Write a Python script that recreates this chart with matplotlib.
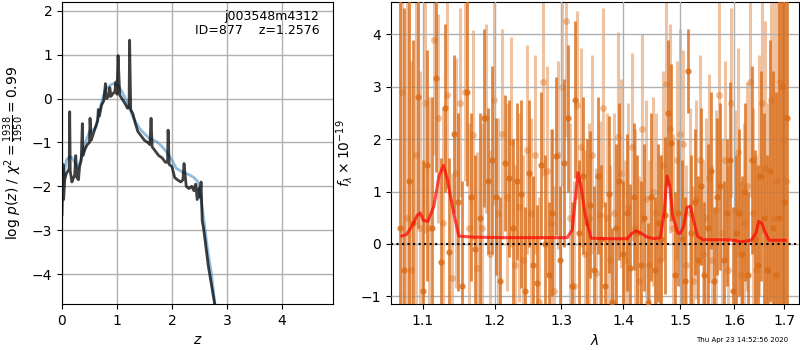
import numpy as np
import matplotlib
matplotlib.use("Agg")
import matplotlib.pyplot as plt
from matplotlib.ticker import FixedLocator, FixedFormatter, NullLocator

# ---------------- left panel: p(z) ----------------
z_pz = [0.0, 0.02, 0.03, 0.05, 0.08, 0.11, 0.13, 0.14, 0.15, 0.18, 0.21, 0.23, 0.25, 0.27, 0.30,
        0.32, 0.35, 0.37, 0.38, 0.42, 0.46, 0.50, 0.51, 0.53, 0.57, 0.61, 0.65, 0.66, 0.68, 0.72,
        0.76, 0.79, 0.81, 0.85, 0.87, 0.89, 0.93, 0.96, 0.98, 1.00, 1.02, 1.05, 1.10, 1.15, 1.19,
        1.22, 1.23, 1.25, 1.29, 1.33, 1.38, 1.44, 1.50, 1.56, 1.60, 1.62, 1.64, 1.70, 1.76, 1.82,
        1.88, 1.92, 1.93, 1.95, 2.00, 2.05, 2.10, 2.16, 2.20, 2.22, 2.26, 2.31, 2.36, 2.40, 2.43,
        2.46, 2.49, 2.51, 2.53, 2.55, 2.58, 2.62, 2.66, 2.70, 2.74, 2.78]
logp = [-2.65, -1.5, -2.3, -1.85, -1.7, -1.65, -1.6, -0.3, -1.65, -1.9, -1.8, -1.75, -1.3, -1.8, -1.85,
        -1.55, -1.4, -0.57, -1.3, -1.15, -1.05, -1.0, -0.45, -0.95, -0.8, -0.65, -0.5, -0.25, -0.4, -0.15,
        -0.05, 0.34, 0.0, 0.05, 0.25, 0.05, 0.12, 0.15, 0.38, 0.1, 0.98, 0.08, -0.02, -0.12, -0.22,
        -0.2, 1.33, -0.25, -0.35, -0.55, -0.75, -0.85, -0.95, -1.0, -1.05, -0.45, -1.1, -1.2, -1.3, -1.35,
        -1.45, -1.45, -0.72, -1.5, -1.55, -1.8, -1.85, -1.9, -1.85, -1.48, -2.0, -2.05, -2.0, -2.1, -1.95,
        -2.3, -2.05, -2.25, -1.9, -2.77, -3.0, -3.4, -3.8, -4.1, -4.4, -4.7]

z_prior = [0.0, 0.04, 0.08, 0.12, 0.17, 0.23, 0.29, 0.35, 0.44, 0.50, 0.56, 0.62, 0.68, 0.74, 0.80,
           0.87, 0.93, 1.02, 1.08, 1.14, 1.22, 1.29, 1.35, 1.41, 1.50, 1.59, 1.72, 1.81, 1.90, 2.00,
           2.08, 2.20, 2.32, 2.40, 2.47, 2.53, 2.59, 2.65, 2.72, 2.78]
logp_prior = [-2.16, -1.7, -1.4, -1.35, -1.33, -1.45, -1.6, -1.35, -0.95, -0.76, -0.72, -0.64, -0.27, 0.0, 0.23,
              0.3, 0.34, 0.3, 0.18, 0.04, -0.2, -0.42, -0.55, -0.68, -0.8, -0.91, -0.98, -1.08, -1.21, -1.4,
              -1.59, -1.68, -1.74, -1.8, -1.89, -2.3, -2.85, -3.45, -4.0, -4.66]

# ---------------- right panel: spectrum ----------------
wave_a = [1.070, 1.076, 1.082, 1.088, 1.094, 1.100, 1.106, 1.112, 1.118, 1.124, 1.130, 1.136, 1.142, 1.148,
          1.154, 1.160, 1.166, 1.172, 1.178, 1.184, 1.190, 1.196, 1.202, 1.208, 1.214, 1.220, 1.226, 1.232,
          1.238, 1.244, 1.250, 1.256, 1.262, 1.268, 1.274, 1.280, 1.286, 1.292, 1.298, 1.304, 1.310, 1.316,
          1.322, 1.328, 1.334, 1.340, 1.346, 1.352, 1.358, 1.364, 1.370, 1.376, 1.382, 1.388, 1.394, 1.400,
          1.406, 1.412, 1.418, 1.424, 1.430, 1.436, 1.442, 1.448, 1.454, 1.460, 1.466, 1.472, 1.478, 1.484,
          1.490, 1.496, 1.502, 1.508, 1.514, 1.520, 1.526, 1.532, 1.538, 1.544, 1.550, 1.556, 1.562, 1.568,
          1.574, 1.580, 1.586, 1.592, 1.598, 1.604, 1.610, 1.616, 1.622, 1.628, 1.634, 1.640, 1.646, 1.652,
          1.658, 1.664, 1.670, 1.676, 1.682, 1.688, 1.694, 1.700, 1.706]
flux_a = [0.3, -0.5, 1.2, 0.4, 2.8, -0.9, 1.5, 0.3, 3.17, -0.35, 2.6, -0.15, 2.1, 0.8,
          -0.8, 2.9, 0.9, -0.1, 0.5, 2.4, 1.2, 1.6, 0.9, -0.7, 1.55, 1.25, 0.3, 1.2,
          0.95, -0.9, 1.35, -0.4, -0.75, 1.5, 0.0, -0.6, 0.6, 1.68, -0.3, 1.55, 2.4, -0.8,
          2.75, 0.2, 1.3, 0.4, 0.75, -0.5, 1.3, 0.1, -0.8, 0.95, -1.1, 0.3, 1.2, -0.2,
          0.6, -0.45, 0.9, 0.2, -0.4, 0.5, -1.1, 0.9, -0.5, 0.4, 0.1, 0.55, 2.5, 1.93,
          -0.6, 0.6, 0.1, -0.7, 3.3, 0.2, 0.8, -0.3, 1.1, -0.6, 0.3, 1.4, -0.7, 0.9,
          1.1, -0.3, 0.6, 1.6, -0.9, 0.2, 0.6, -0.2, 1.0, -0.6, 1.6, 0.1, -0.4, 1.3,
          0.5, -0.5, 1.4, 0.3, -0.6, 0.5, 3.0, 0.8, 2.4]
err_a = [5.0, 5.0, 4.0, 3.5, 2.5, 2.5, 2.2, 2.5, 1.8, 2.0, 1.6, 1.8, 1.5, 1.7,
         2.0, 1.8, 1.6, 1.8, 2.0, 1.7, 1.4, 1.8, 1.5, 1.6, 1.3, 1.5, 1.7, 1.5,
         1.8, 1.6, 1.4, 1.7, 1.5, 1.4, 1.7, 1.4, 1.6, 1.5, 1.4, 1.6, 1.4, 1.6,
         1.5, 1.4, 1.5, 1.6, 1.4, 1.6, 1.5, 1.4, 1.6, 1.5, 1.4, 1.6, 1.5, 1.4,
         1.5, 1.6, 1.4, 1.5, 1.6, 1.4, 1.5, 1.6, 1.4, 1.5, 1.6, 1.5, 1.4, 1.5,
         1.6, 1.4, 1.5, 1.6, 0.8, 1.5, 1.4, 1.6, 1.5, 1.4, 1.6, 1.5, 1.4, 1.5,
         1.6, 1.5, 1.4, 1.5, 1.6, 1.5, 1.6, 1.5, 1.7, 1.6, 1.8, 1.7, 1.9, 2.0,
         2.0, 2.2, 2.5, 3.0, 3.5, 4.5, 5.0, 5.0, 5.0]

wave_b = [1.073, 1.079, 1.085, 1.091, 1.097, 1.103, 1.109, 1.115, 1.121, 1.127, 1.133, 1.139, 1.145, 1.151,
          1.157, 1.163, 1.169, 1.175, 1.181, 1.187, 1.193, 1.199, 1.205, 1.211, 1.217, 1.223, 1.229, 1.235,
          1.241, 1.247, 1.253, 1.259, 1.265, 1.271, 1.277, 1.283, 1.289, 1.295, 1.301, 1.307, 1.313, 1.319,
          1.325, 1.331, 1.337, 1.343, 1.349, 1.355, 1.361, 1.367, 1.373, 1.379, 1.385, 1.391, 1.397, 1.403,
          1.409, 1.415, 1.421, 1.427, 1.433, 1.439, 1.445, 1.451, 1.457, 1.463, 1.469, 1.475, 1.481, 1.487,
          1.493, 1.499, 1.505, 1.511, 1.517, 1.523, 1.529, 1.535, 1.541, 1.547, 1.553, 1.559, 1.565, 1.571,
          1.577, 1.583, 1.589, 1.595, 1.601, 1.607, 1.613, 1.619, 1.625, 1.631, 1.637, 1.643, 1.649, 1.655,
          1.661, 1.667, 1.673, 1.679, 1.685, 1.691, 1.697, 1.703]
flux_b = [2.9, 0.5, -0.5, 1.7, 0.3, 2.7, 0.3, 3.9, 2.4, 0.4, 2.85, -0.65, 1.35, 2.7,
          2.9, 0.3, 2.08, -0.45, 0.3, 2.4, -0.2, 2.75, 0.6, 2.1, 0.9, 1.95, -0.4, 0.7,
          -0.3, 1.8, 0.6, 1.7, -1.1, 3.1, 1.4, 0.4, -0.9, 1.7, 3.0, 4.25, 0.5, -0.8,
          2.65, 1.85, -0.2, 0.5, 1.7, -0.55, 0.55, 2.6, 0.5, -0.3, 0.6, 2.05, 1.35, -0.3,
          0.7, 1.85, 0.3, -0.7, 2.2, 0.85, -0.4, 1.0, 0.6, -0.3, 1.5, 3.05, 2.2, 0.3,
          1.6, 2.1, 1.9, -0.4, 0.6, -0.7, 0.85, 1.6, -0.2, 0.5, 1.25, -0.3, 0.65, 2.85,
          0.2, 1.6, -0.5, 2.7, 0.65, 1.75, -0.6, 0.4, 1.1, 3.1, 0.6, -0.5, 1.3, 2.7,
          1.45, -0.5, 2.75, 0.5, 1.2, 3.1, 2.0, 1.2]
err_b = [5.0, 4.5, 4.0, 3.0, 3.0, 2.5, 2.5, 2.2, 2.0, 2.2, 1.8, 2.0, 2.2, 1.8,
         1.7, 2.0, 2.0, 2.2, 2.0, 1.8, 2.0, 2.0, 1.8, 2.0, 1.8, 2.0, 1.9, 1.8,
         2.0, 2.0, 1.8, 1.9, 2.0, 1.8, 2.0, 1.8, 2.0, 1.8, 1.9, 2.2, 1.8, 2.0,
         1.8, 1.9, 2.0, 1.8, 1.9, 2.0, 1.8, 1.9, 2.0, 1.8, 1.9, 2.0, 1.8, 1.9,
         2.0, 1.8, 1.9, 2.0, 1.8, 1.9, 2.0, 1.8, 1.9, 2.0, 1.8, 1.9, 2.0, 1.8,
         1.9, 2.0, 1.8, 1.9, 2.0, 1.8, 1.9, 2.0, 1.8, 1.9, 2.0, 1.8, 1.9, 2.0,
         1.8, 1.9, 2.0, 1.8, 1.9, 2.0, 1.8, 1.9, 2.0, 2.2, 2.0, 2.2, 2.3, 2.5,
         2.8, 3.2, 3.8, 4.5, 5.0, 5.0, 5.0, 5.0]

wave_model = [1.073, 1.079, 1.086, 1.093, 1.097, 1.101, 1.107, 1.115, 1.122, 1.128, 1.133, 1.142, 1.149,
              1.170, 1.218, 1.268, 1.309, 1.317, 1.326, 1.331, 1.338, 1.347, 1.374, 1.407, 1.415, 1.422,
              1.430, 1.441, 1.453, 1.464, 1.471, 1.476, 1.481, 1.486, 1.495, 1.500, 1.506, 1.512, 1.518,
              1.524, 1.531, 1.541, 1.581, 1.600, 1.613, 1.633, 1.643, 1.648, 1.654, 1.660, 1.668, 1.673,
              1.702]
flux_model = [0.15, 0.18, 0.34, 0.55, 0.59, 0.45, 0.43, 0.72, 1.3, 1.5, 1.25, 0.59, 0.15,
              0.13, 0.12, 0.12, 0.12, 0.27, 1.36, 1.1, 0.53, 0.11, 0.10, 0.10, 0.2, 0.25,
              0.21, 0.13, 0.10, 0.12, 0.6, 1.3, 1.1, 0.55, 0.21, 0.2, 0.35, 0.7, 0.72,
              0.45, 0.15, 0.08, 0.08, 0.07, 0.04, 0.07, 0.21, 0.43, 0.40, 0.25, 0.08, 0.07,
              0.07]

xticks_right = [1.1, 1.2, 1.3, 1.4, 1.5, 1.6, 1.7]
xtick_labels_right = ["1.1", "1.2", "1.3", "1.4", "1.5", "1.6", "1.7"]

# ---------------- figure ----------------
fig = plt.figure(figsize=(8, 3.5), dpi=100)
ax1 = fig.add_axes([62/800, 46/350, 271/800, 302/350])
ax2 = fig.add_axes([391/800, 46/350, 408/800, 302/350])

ax1.plot(z_prior, logp_prior, color='#4a90c8', alpha=0.6, lw=2, zorder=3)
ax1.plot(z_pz, logp, color='black', alpha=0.75, lw=2, zorder=4)
ax1.set_xlim(0, 4.93)
ax1.set_ylim(-4.68, 2.2)
ax1.set_xticks([0, 1, 2, 3, 4])
ax1.set_yticks([-4, -3, -2, -1, 0, 1, 2])
ax1.grid(True, color='#b0b0b0', lw=1)
ax1.set_axisbelow(True)
ax1.set_xlabel(r'$z$', fontsize=10)
ax1.set_ylabel(r'$\log\, p(z)$ / $\chi^2=\frac{1938}{1950}=0.99$', fontsize=10)
ax1.text(0.95, 0.975, 'j003548m4312\nID=877    z=1.2576', transform=ax1.transAxes,
         ha='right', va='top', fontsize=9, linespacing=1.1)

col = '#d96b16'
ax2.errorbar(wave_b, flux_b, yerr=err_b, fmt='o', color=col, alpha=0.4, ms=5,
             elinewidth=2.2, mew=0, capsize=0, zorder=2)
ax2.errorbar(wave_a, flux_a, yerr=err_a, fmt='o', color=col, alpha=0.8, ms=4.5,
             elinewidth=2.0, mew=0, capsize=0, zorder=3)
ax2.plot(wave_model, flux_model, color='red', alpha=0.7, lw=2.2, zorder=5)
ax2.axhline(0, color='black', ls=':', lw=1.5, zorder=6)
ax2.set_xscale('log')
ax2.set_xlim(1.059, 1.730)
ax2.set_ylim(-1.147, 4.62)
ax2.xaxis.set_major_locator(FixedLocator(xticks_right))
ax2.xaxis.set_major_formatter(FixedFormatter(xtick_labels_right))
ax2.xaxis.set_minor_locator(NullLocator())
ax2.set_yticks([-1, 0, 1, 2, 3, 4])
ax2.grid(True, color='#b0b0b0', lw=1)
ax2.set_axisbelow(False)
for gl in ax2.get_xgridlines() + ax2.get_ygridlines():
    gl.set_zorder(4)
ax2.set_xlabel(r'$\lambda$', fontsize=10)
ax2.set_ylabel(r'$f_\lambda\times10^{-19}$', fontsize=10)

fig.text(0.928, 0.028, 'Thu Apr 23 14:52:56 2020', ha='center', va='center', fontsize=5)

fig.savefig('out.png', dpi=100)
